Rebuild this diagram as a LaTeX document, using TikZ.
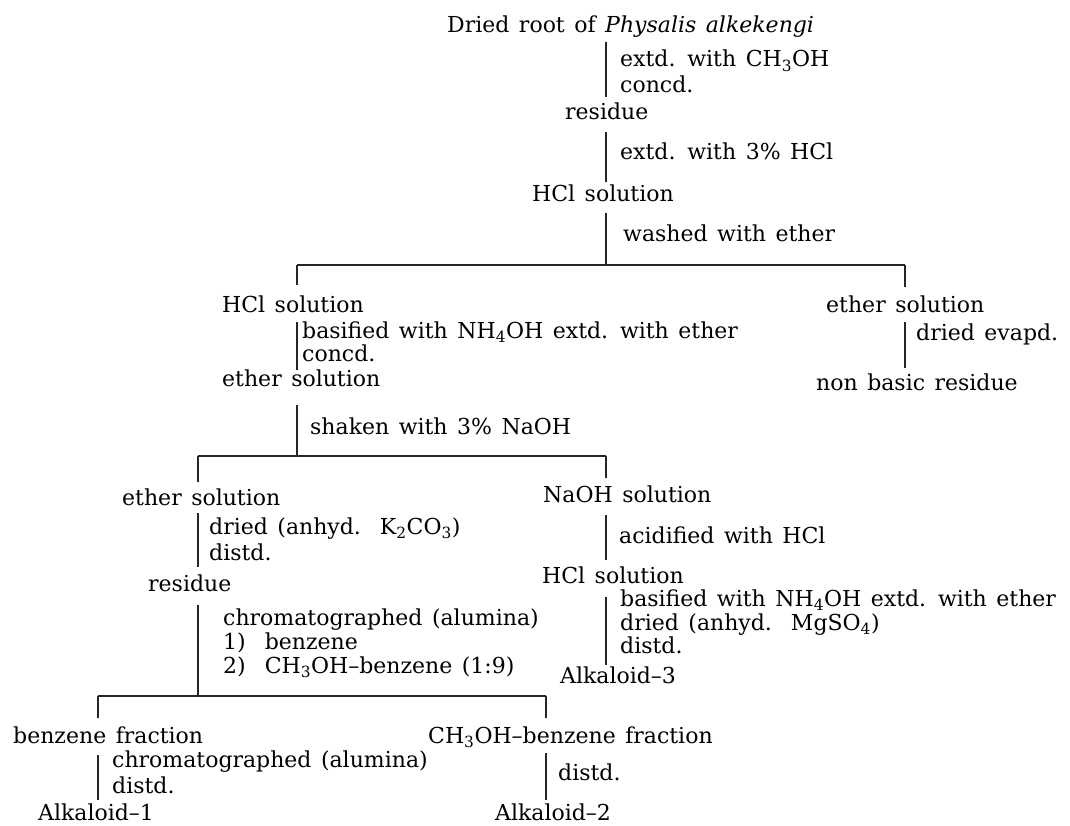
\documentclass[tikz,border=0pt]{standalone}
\usepackage{fontspec}
\setmainfont{DejaVu Serif}
\newcommand{\chsub}[1]{\textsubscript{#1}}
\newcommand{\lblfont}{\fontsize{22}{26}\selectfont\spaceskip=9.5pt plus 1pt minus 1pt\relax}
\begin{document}
\begin{tikzpicture}[x=1pt,y=-1pt,
  lbl/.style={anchor=base west, inner sep=0pt, font=\lblfont},
  conn/.style={line width=1.1pt, draw=black!85}]
\useasboundingbox (0,0) rectangle (1070,826);
% texts
\node[lbl] (root) at (447,33) {Dried root of \textit{Physalis alkekengi}};
\node[lbl] (s1a) at (620,67) {extd. with CH\chsub{3}OH};
\node[lbl] (s1b) at (620,93) {concd.};
\node[lbl] (res1) at (565,120) {residue};
\node[lbl] (s2) at (620,160) {extd. with 3\% HCl};
\node[lbl] (hcl1) at (532,202) {HCl solution};
\node[lbl] (s3) at (623,242) {washed with ether};
\node[lbl] (hcl2) at (222,312) {HCl solution};
\node[lbl] (s4a) at (302,338) {basified with NH\chsub{4}OH extd. with ether};
\node[lbl] (s4b) at (302,361) {concd.};
\node[lbl] (eth1) at (222,386) {ether solution};
\node[lbl] (s5) at (310,434) {shaken with 3\% NaOH};
\node[lbl] (eth2) at (826,312) {ether solution};
\node[lbl] (s6) at (916,340) {dried evapd.};
\node[lbl] (nbr) at (816,390) {non basic residue};
\node[lbl] (eth3) at (122,505) {ether solution};
\node[lbl] (s7a) at (209,534) {dried (anhyd.\ \ K\chsub{2}CO\chsub{3})};
\node[lbl] (s7b) at (209,560) {distd.};
\node[lbl] (res2) at (148,591) {residue};
\node[lbl] (s8a) at (223,625) {chromatographed (alumina)};
\node[lbl] (s8b) at (223,649) {1)\ \ benzene};
\node[lbl] (s8c) at (223,673) {2)\ \ CH\chsub{3}OH--benzene (1:9)};
\node[lbl] (naoh) at (543,502) {NaOH solution};
\node[lbl] (s9) at (619,543) {acidified with HCl};
\node[lbl] (hcl3) at (542,583) {HCl solution};
\node[lbl] (s10a) at (620,606) {basified with NH\chsub{4}OH extd. with ether};
\node[lbl] (s10b) at (620,630) {dried (anhyd.\ \ MgSO\chsub{4})};
\node[lbl] (s10c) at (620,653) {distd.};
\node[lbl] (alk3) at (560,683) {Alkaloid--3};
\node[lbl] (bf) at (13,743) {benzene fraction};
\node[lbl] (mbf) at (428,743) {CH\chsub{3}OH--benzene fraction};
\node[lbl] (s11a) at (112,767) {chromatographed (alumina)};
\node[lbl] (s11b) at (112,793) {distd.};
\node[lbl] (s12) at (558,780) {distd.};
\node[lbl] (alk1) at (38,820) {Alkaloid--1};
\node[lbl] (alk2) at (495,820) {Alkaloid--2};
% coordinates for connectors
\coordinate (a1) at (606,42);  \coordinate (a2) at (606,97);
\coordinate (b1) at (606,132); \coordinate (b2) at (606,182);
\coordinate (c1) at (606,213); \coordinate (c2) at (606,265);
\coordinate (h1l) at (297,265); \coordinate (h1r) at (905,265);
\coordinate (d1) at (297,285); \coordinate (e1) at (905,287);
\coordinate (f1) at (297,322); \coordinate (f2) at (297,370);
\coordinate (g1) at (905,322); \coordinate (g2) at (905,368);
\coordinate (k1) at (297,405); \coordinate (k2) at (297,456);
\coordinate (h2l) at (198,456); \coordinate (h2r) at (606,456);
\coordinate (l1) at (198,482); \coordinate (m1) at (606,478);
\coordinate (n1) at (198,513); \coordinate (n2) at (198,567);
\coordinate (o1) at (198,605); \coordinate (o2) at (198,696);
\coordinate (p1) at (606,515); \coordinate (p2) at (606,560);
\coordinate (q1) at (606,597); \coordinate (q2) at (606,665);
\coordinate (h3l) at (98,696); \coordinate (h3r) at (546,696);
\coordinate (r1) at (98,718); \coordinate (t1) at (546,718);
\coordinate (u1) at (98,755); \coordinate (u2) at (98,800);
\coordinate (v1) at (546,753); \coordinate (v2) at (546,800);
% connectors
\draw[conn] (a1) -- (a2);
\draw[conn] (b1) -- (b2);
\draw[conn] (c1) -- (c2);
\draw[conn] (h1l) -- (h1r);
\draw[conn] (h1l) -- (d1);
\draw[conn] (h1r) -- (e1);
\draw[conn] (f1) -- (f2);
\draw[conn] (g1) -- (g2);
\draw[conn] (k1) -- (k2);
\draw[conn] (h2l) -- (h2r);
\draw[conn] (h2l) -- (l1);
\draw[conn] (h2r) -- (m1);
\draw[conn] (n1) -- (n2);
\draw[conn] (o1) -- (o2);
\draw[conn] (p1) -- (p2);
\draw[conn] (q1) -- (q2);
\draw[conn] (h3l) -- (h3r);
\draw[conn] (h3l) -- (r1);
\draw[conn] (h3r) -- (t1);
\draw[conn] (u1) -- (u2);
\draw[conn] (v1) -- (v2);
\end{tikzpicture}
\end{document}
